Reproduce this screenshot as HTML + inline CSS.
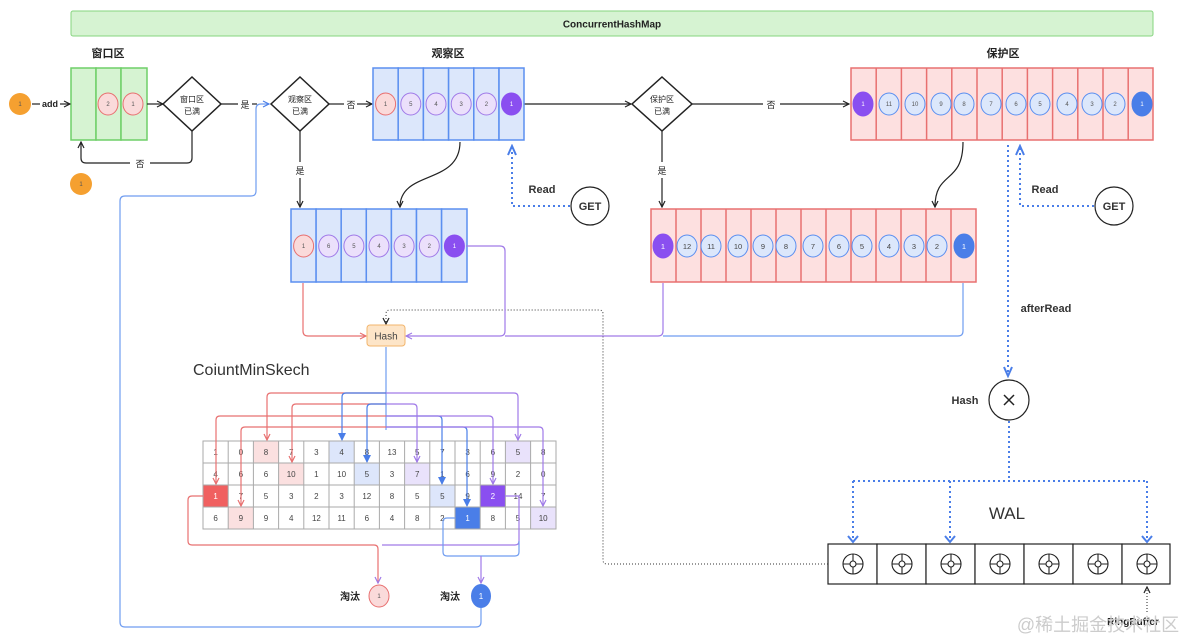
<!DOCTYPE html>
<html><head><meta charset="utf-8"><style>
html,body{margin:0;padding:0;background:#fff}
svg{display:block}
text{font-family:"Liberation Sans","Noto Sans CJK SC",sans-serif}
</style></head><body>
<svg width="1184" height="641" viewBox="0 0 1184 641" xmlns="http://www.w3.org/2000/svg">
<defs>
<marker id="ak" markerWidth="8" markerHeight="8" refX="7" refY="4" orient="auto" markerUnits="userSpaceOnUse"><path d="M1,1 L7,4 L1,7" fill="none" stroke="#222" stroke-width="1.2"/></marker>
<marker id="ab" markerWidth="12" markerHeight="10" refX="10" refY="5" orient="auto" markerUnits="userSpaceOnUse"><path d="M1,1 L10,5 L1,9" fill="none" stroke="#4a7ee8" stroke-width="2"/></marker>
<marker id="ab2" markerWidth="8" markerHeight="8" refX="7" refY="4" orient="auto" markerUnits="userSpaceOnUse"><path d="M1,1 L7,4 L1,7" fill="none" stroke="#4a7ee8" stroke-width="1.2"/></marker>
<marker id="abf" markerWidth="8" markerHeight="8" refX="7" refY="4" orient="auto" markerUnits="userSpaceOnUse"><path d="M0,0 L8,4 L0,8z" fill="#4a7ee8"/></marker>
<marker id="ar" markerWidth="8" markerHeight="8" refX="7" refY="4" orient="auto" markerUnits="userSpaceOnUse"><path d="M1,1 L7,4 L1,7" fill="none" stroke="#e87070" stroke-width="1.2"/></marker>
<marker id="ap" markerWidth="8" markerHeight="8" refX="7" refY="4" orient="auto" markerUnits="userSpaceOnUse"><path d="M1,1 L7,4 L1,7" fill="none" stroke="#a07ae8" stroke-width="1.2"/></marker>
</defs>

<!-- top bar -->
<rect x="71" y="11" width="1082" height="25" rx="2" fill="#d6f3d2" stroke="#86d47f"/>
<text x="612" y="27.5" font-size="10" font-weight="bold" text-anchor="middle" fill="#222">ConcurrentHashMap</text>

<!-- headings -->
<g font-size="11" font-weight="bold" fill="#222" text-anchor="middle">
<text x="108" y="57">窗口区</text>
<text x="448" y="57">观察区</text>
<text x="1003" y="57">保护区</text>
</g>

<!-- window box -->
<g stroke="#6fcf68" stroke-width="1.5" fill="#d6f3d2">
<rect x="71" y="68" width="25" height="72"/><rect x="96" y="68" width="25" height="72"/><rect x="121" y="68" width="26" height="72"/>
</g>
<g font-size="6" text-anchor="middle" fill="#555">
<ellipse cx="108" cy="104" rx="10" ry="11" fill="#fadada" stroke="#e87070"/><text x="108" y="106">2</text>
<ellipse cx="133" cy="104" rx="10" ry="11" fill="#fadada" stroke="#e87070"/><text x="133" y="106">1</text>
<circle cx="20" cy="104" r="11" fill="#f5a030"/><text x="20" y="106">1</text>
<circle cx="81" cy="184" r="11" fill="#f5a030"/><text x="81" y="186">1</text>
</g>
<g stroke="#222" stroke-width="1.2" fill="none">
<path d="M32,104 H40"/><path d="M60,104 H70" marker-end="url(#ak)"/>
<path d="M147,104 H163" marker-end="url(#ak)"/>
<path d="M221,104 H238"/><path d="M252,104 H257"/>
<path d="M192,131 V158 q0,5 -5,5 H150 M130,163 H86 q-5,0 -5,-5 V142" marker-end="url(#ak)"/>
<path d="M329,104 H344"/><path d="M357,104 H372" marker-end="url(#ak)"/>
<path d="M300,131 V162 M300,178 V207" marker-end="url(#ak)"/>
<path d="M524,104 H631" marker-end="url(#ak)"/>
<path d="M692,104 H763 M780,104 H849" marker-end="url(#ak)"/>
<path d="M662,131 V162 M662,178 V207" marker-end="url(#ak)"/>
<path d="M460,142 C460,185 400,170 400,207" marker-end="url(#ak)"/>
<path d="M963,142 C963,185 935,170 935,207" marker-end="url(#ak)"/>
</g>
<g font-size="9" fill="#222" text-anchor="middle">
<text x="50" y="107" font-weight="bold">add</text>
<text x="245" y="108">是</text>
<text x="140" y="167">否</text>
<text x="351" y="108">否</text>
<text x="300" y="174">是</text>
<text x="771" y="108">否</text>
<text x="662" y="174">是</text>
</g>
<!-- diamonds -->
<g fill="#fff" stroke="#222" stroke-width="1.5">
<path d="M192,77 L221,104 L192,131 L163,104 Z"/>
<path d="M300,77 L329,104 L300,131 L271,104 Z"/>
<path d="M662,77 L692,104 L662,131 L632,104 Z"/>
</g>
<g font-size="8" fill="#222" text-anchor="middle">
<text x="192" y="102">窗口区</text><text x="192" y="114">已满</text>
<text x="300" y="102">观察区</text><text x="300" y="114">已满</text>
<text x="662" y="102">保护区</text><text x="662" y="114">已满</text>
</g>

<!-- blue loop -->
<path d="M481,608 V622 q0,5 -5,5 H125 q-5,0 -5,-5 V201 q0,-5 5,-5 H251 q5,0 5,-5 V109 q0,-5 5,-5 H269" fill="none" stroke="#6f9cf0" stroke-width="1.2" marker-end="url(#ab2)"/>

<!-- observation box -->
<g stroke="#5b8ff0" stroke-width="1.5" fill="#dce7fb">
<rect x="373" y="68" width="25.2" height="72"/><rect x="398.2" y="68" width="25.2" height="72"/><rect x="423.4" y="68" width="25.2" height="72"/><rect x="448.6" y="68" width="25.2" height="72"/><rect x="473.8" y="68" width="25.2" height="72"/><rect x="499" y="68" width="25" height="72"/>
</g>
<g font-size="6" text-anchor="middle" fill="#555">
<ellipse cx="385.6" cy="104" rx="10" ry="11" fill="#fadada" stroke="#e87070"/><text x="385.6" y="106">1</text>
<ellipse cx="410.8" cy="104" rx="10" ry="11" fill="#ebe0fb" stroke="#a07ae8"/><text x="410.8" y="106">5</text>
<ellipse cx="436" cy="104" rx="10" ry="11" fill="#ebe0fb" stroke="#a07ae8"/><text x="436" y="106">4</text>
<ellipse cx="461.2" cy="104" rx="10" ry="11" fill="#ebe0fb" stroke="#a07ae8"/><text x="461.2" y="106">3</text>
<ellipse cx="486.4" cy="104" rx="10" ry="11" fill="#ebe0fb" stroke="#a07ae8"/><text x="486.4" y="106">2</text>
<ellipse cx="511.5" cy="104" rx="10" ry="11" fill="#8a4ff0" stroke="#8a4ff0"/><text x="511.5" y="106" fill="#fff">1</text>
</g>

<!-- second observation box -->
<g stroke="#5b8ff0" stroke-width="1.5" fill="#dce7fb">
<rect x="291" y="209" width="25.1" height="73"/><rect x="316.1" y="209" width="25.1" height="73"/><rect x="341.2" y="209" width="25.1" height="73"/><rect x="366.3" y="209" width="25.1" height="73"/><rect x="391.4" y="209" width="25.1" height="73"/><rect x="416.5" y="209" width="25.1" height="73"/><rect x="441.6" y="209" width="25.4" height="73"/>
</g>
<g font-size="6" text-anchor="middle" fill="#555">
<ellipse cx="303.6" cy="246" rx="10" ry="11" fill="#fadada" stroke="#e87070"/><text x="303.6" y="248">1</text>
<ellipse cx="328.7" cy="246" rx="10" ry="11" fill="#ebe0fb" stroke="#a07ae8"/><text x="328.7" y="248">6</text>
<ellipse cx="353.9" cy="246" rx="10" ry="11" fill="#ebe0fb" stroke="#a07ae8"/><text x="353.9" y="248">5</text>
<ellipse cx="379" cy="246" rx="10" ry="11" fill="#ebe0fb" stroke="#a07ae8"/><text x="379" y="248">4</text>
<ellipse cx="404.1" cy="246" rx="10" ry="11" fill="#ebe0fb" stroke="#a07ae8"/><text x="404.1" y="248">3</text>
<ellipse cx="429.3" cy="246" rx="10" ry="11" fill="#ebe0fb" stroke="#a07ae8"/><text x="429.3" y="248">2</text>
<ellipse cx="454.4" cy="246" rx="10" ry="11" fill="#8a4ff0" stroke="#8a4ff0"/><text x="454.4" y="248" fill="#fff">1</text>
</g>

<!-- protected top -->
<g stroke="#e87070" stroke-width="1.5" fill="#fde0e0">
<rect x="851" y="68" width="302" height="72"/>
<path d="M876.2,68V140 M901.4,68V140 M926.6,68V140 M951.8,68V140 M977,68V140 M1002.2,68V140 M1027.4,68V140 M1052.6,68V140 M1077.8,68V140 M1103,68V140 M1128.2,68V140" fill="none"/>
</g>
<g font-size="6" text-anchor="middle" fill="#555">
<ellipse cx="863" cy="104" rx="10" ry="12" fill="#8a4ff0" stroke="#8a4ff0"/><text x="863" y="106" fill="#fff">1</text>
<g fill="#dce7fb" stroke="#5b8ff0">
<ellipse cx="889" cy="104" rx="10" ry="11"/><ellipse cx="915" cy="104" rx="10" ry="11"/><ellipse cx="941" cy="104" rx="10" ry="11"/><ellipse cx="964" cy="104" rx="10" ry="11"/><ellipse cx="991" cy="104" rx="10" ry="11"/><ellipse cx="1016" cy="104" rx="10" ry="11"/><ellipse cx="1040" cy="104" rx="10" ry="11"/><ellipse cx="1067" cy="104" rx="10" ry="11"/><ellipse cx="1092" cy="104" rx="10" ry="11"/><ellipse cx="1115" cy="104" rx="10" ry="11"/>
</g>
<text x="889" y="106">11</text><text x="915" y="106">10</text><text x="941" y="106">9</text><text x="964" y="106">8</text><text x="991" y="106">7</text><text x="1016" y="106">6</text><text x="1040" y="106">5</text><text x="1067" y="106">4</text><text x="1092" y="106">3</text><text x="1115" y="106">2</text>
<ellipse cx="1142" cy="104" rx="10" ry="12" fill="#4a7ee8" stroke="#4a7ee8"/><text x="1142" y="106" fill="#fff">1</text>
</g>

<!-- protected bottom -->
<g stroke="#e87070" stroke-width="1.5" fill="#fde0e0">
<rect x="651" y="209" width="325" height="73"/>
<path d="M676,209V282 M701,209V282 M726,209V282 M751,209V282 M776,209V282 M801,209V282 M826,209V282 M851,209V282 M876,209V282 M901,209V282 M926,209V282 M951,209V282" fill="none"/>
</g>
<g font-size="7.5" text-anchor="middle" fill="#444">
<ellipse cx="663" cy="246" rx="10" ry="12" fill="#8a4ff0" stroke="#8a4ff0"/><text x="663" y="249" fill="#fff">1</text>
<g fill="#dce7fb" stroke="#5b8ff0">
<ellipse cx="687" cy="246" rx="10" ry="11"/><ellipse cx="711" cy="246" rx="10" ry="11"/><ellipse cx="738" cy="246" rx="10" ry="11"/><ellipse cx="763" cy="246" rx="10" ry="11"/><ellipse cx="786" cy="246" rx="10" ry="11"/><ellipse cx="813" cy="246" rx="10" ry="11"/><ellipse cx="839" cy="246" rx="10" ry="11"/><ellipse cx="862" cy="246" rx="10" ry="11"/><ellipse cx="889" cy="246" rx="10" ry="11"/><ellipse cx="914" cy="246" rx="10" ry="11"/><ellipse cx="937" cy="246" rx="10" ry="11"/>
</g>
<text x="687" y="249">12</text><text x="711" y="249">11</text><text x="738" y="249">10</text><text x="763" y="249">9</text><text x="786" y="249">8</text><text x="813" y="249">7</text><text x="839" y="249">6</text><text x="862" y="249">5</text><text x="889" y="249">4</text><text x="914" y="249">3</text><text x="937" y="249">2</text>
<ellipse cx="964" cy="246" rx="10" ry="12" fill="#4a7ee8" stroke="#4a7ee8"/><text x="964" y="249" fill="#fff">1</text>
</g>

<!-- Read/GET -->
<g stroke="#4a7ee8" stroke-width="2" stroke-dasharray="2,3" fill="none">
<path d="M570,206 H512 V146" marker-end="url(#ab)"/>
<path d="M1094,206 H1020 V146" marker-end="url(#ab)"/>
<path d="M1008,145 V376" marker-end="url(#ab)"/>
<path d="M1009,421 V481 M853,481 H1147 M853,481 V541 M950,481 V541 M1147,481 V541"/>
</g>
<g stroke="#4a7ee8" stroke-width="2" fill="none"><path d="M848,536 L853,542 L858,536 M945,536 L950,542 L955,536 M1142,536 L1147,542 L1152,536"/></g>
<circle cx="590" cy="206" r="19" fill="#fff" stroke="#222" stroke-width="1.2"/>
<circle cx="1114" cy="206" r="19" fill="#fff" stroke="#222" stroke-width="1.2"/>
<g font-size="11" font-weight="bold" fill="#333" text-anchor="middle">
<text x="590" y="210">GET</text><text x="1114" y="210">GET</text>
<text x="542" y="193">Read</text><text x="1045" y="193">Read</text>
<text x="1046" y="312">afterRead</text>
<text x="965" y="404">Hash</text>
</g>
<circle cx="1009" cy="400" r="20" fill="#fff" stroke="#222" stroke-width="1.2"/>
<path d="M1004,395 L1014,405 M1014,395 L1004,405" stroke="#222" stroke-width="1.5"/>
<text x="1007" y="519" font-size="17" fill="#333" text-anchor="middle">WAL</text>

<!-- WAL cells -->
<g stroke="#222" stroke-width="1.2" fill="#fff">
<rect x="828" y="544" width="49" height="40"/><rect x="877" y="544" width="49" height="40"/><rect x="926" y="544" width="49" height="40"/><rect x="975" y="544" width="49" height="40"/><rect x="1024" y="544" width="49" height="40"/><rect x="1073" y="544" width="49" height="40"/><rect x="1122" y="544" width="48" height="40"/>
</g>
<g stroke="#222" stroke-width="1.1" fill="none">
<g id="tg"><circle cx="853" cy="564" r="10"/><circle cx="853" cy="564" r="3"/><path d="M843,564h7 M856,564h7 M853,554v7 M853,567v7"/></g>
<use href="#tg" x="49"/><use href="#tg" x="98"/><use href="#tg" x="147"/><use href="#tg" x="196"/><use href="#tg" x="245"/><use href="#tg" x="294"/>
</g>
<path d="M1147,612 V587" stroke="#222" stroke-width="1" stroke-dasharray="1,2" marker-end="url(#ak)"/>
<text x="1133" y="625" font-size="10" font-weight="bold" fill="#222" text-anchor="middle">RingBuffer</text>
<text x="1098" y="631" font-size="18" fill="#ccc" text-anchor="middle">@稀土掘金技术社区</text>

<!-- dotted black to hash -->
<path d="M828,564 H607 q-4,0 -4,-4 V314 q0,-4 -4,-4 H390 q-4,0 -4,4 V324" fill="none" stroke="#333" stroke-width="1" stroke-dasharray="1,2" marker-end="url(#ak)"/>

<!-- lines into Hash -->
<path d="M303,283 V331 q0,5 5,5 H366" fill="none" stroke="#e87070" stroke-width="1.2" marker-end="url(#ar)"/>
<path d="M466,246 H500 q5,0 5,5 V331 q0,5 -5,5 H406" fill="none" stroke="#a07ae8" stroke-width="1.2" marker-end="url(#ap)"/>
<path d="M663,283 V331 q0,5 -5,5 H505" fill="none" stroke="#a07ae8" stroke-width="1.2"/>
<path d="M963,283 V331 q0,5 -5,5 H663" fill="none" stroke="#6f9cf0" stroke-width="1.2"/>
<rect x="367" y="325" width="38" height="21" rx="3" fill="#fde5c8" stroke="#f2b56c"/>
<text x="386" y="339.5" font-size="10" fill="#444" text-anchor="middle">Hash</text>
<text x="193" y="375" font-size="16" fill="#333">CoiuntMinSkech</text>

<!-- CMS grid -->
<g stroke="#999" stroke-width="1" fill="#fff">
<rect x="203" y="441" width="353" height="88"/>
</g>
<g stroke="none">
<rect x="253.4" y="441" width="25.2" height="22" fill="#fbe0e0"/>
<rect x="329" y="441" width="25.2" height="22" fill="#dde6fb"/>
<rect x="505.4" y="441" width="25.2" height="22" fill="#e9e2fb"/>
<rect x="278.6" y="463" width="25.2" height="22" fill="#fbe0e0"/>
<rect x="354.2" y="463" width="25.2" height="22" fill="#dde6fb"/>
<rect x="404.6" y="463" width="25.2" height="22" fill="#e9e2fb"/>
<rect x="203" y="485" width="25.2" height="22" fill="#f06060"/>
<rect x="429.8" y="485" width="25.2" height="22" fill="#dde6fb"/>
<rect x="480.2" y="485" width="25.2" height="22" fill="#8a4ff0"/>
<rect x="228.2" y="507" width="25.2" height="22" fill="#fbe0e0"/>
<rect x="455" y="507" width="25.2" height="22" fill="#4a7ee8"/>
<rect x="530.6" y="507" width="25.4" height="22" fill="#e9e2fb"/>
</g>
<g stroke="#aaa" stroke-width="1" fill="none">
<rect x="203" y="441" width="353" height="88"/>
<path d="M203,463H556 M203,485H556 M203,507H556 M228.2,441V529 M253.4,441V529 M278.6,441V529 M303.8,441V529 M329,441V529 M354.2,441V529 M379.4,441V529 M404.6,441V529 M429.8,441V529 M455,441V529 M480.2,441V529 M505.4,441V529 M530.6,441V529"/>
</g>
<g font-size="8" fill="#444" text-anchor="middle">
<text x="215.6" y="455">1</text><text x="240.8" y="455">0</text><text x="266" y="455">8</text><text x="291.2" y="455">7</text><text x="316.4" y="455">3</text><text x="341.6" y="455">4</text><text x="366.8" y="455">8</text><text x="392" y="455">13</text><text x="417.2" y="455">5</text><text x="442.4" y="455">7</text><text x="467.6" y="455">3</text><text x="492.8" y="455">6</text><text x="518" y="455">5</text><text x="543.2" y="455">8</text>
<text x="215.6" y="477">4</text><text x="240.8" y="477">6</text><text x="266" y="477">6</text><text x="291.2" y="477">10</text><text x="316.4" y="477">1</text><text x="341.6" y="477">10</text><text x="366.8" y="477">5</text><text x="392" y="477">3</text><text x="417.2" y="477">7</text><text x="442.4" y="477">1</text><text x="467.6" y="477">6</text><text x="492.8" y="477">9</text><text x="518" y="477">2</text><text x="543.2" y="477">0</text>
<text x="215.6" y="499" fill="#fff">1</text><text x="240.8" y="499">7</text><text x="266" y="499">5</text><text x="291.2" y="499">3</text><text x="316.4" y="499">2</text><text x="341.6" y="499">3</text><text x="366.8" y="499">12</text><text x="392" y="499">8</text><text x="417.2" y="499">5</text><text x="442.4" y="499">5</text><text x="467.6" y="499">9</text><text x="492.8" y="499" fill="#fff">2</text><text x="518" y="499">14</text><text x="543.2" y="499">7</text>
<text x="215.6" y="521">6</text><text x="240.8" y="521">9</text><text x="266" y="521">9</text><text x="291.2" y="521">4</text><text x="316.4" y="521">12</text><text x="341.6" y="521">11</text><text x="366.8" y="521">6</text><text x="392" y="521">4</text><text x="417.2" y="521">8</text><text x="442.4" y="521">2</text><text x="467.6" y="521" fill="#fff">1</text><text x="492.8" y="521">8</text><text x="518" y="521">5</text><text x="543.2" y="521">10</text>
</g>

<!-- hash distribution lines -->
<path d="M386,347 V430" stroke="#6f9cf0" stroke-width="1.2" fill="none"/>
<g fill="none" stroke-width="1.2">
<g stroke="#e87070">
<path d="M386,393 H271 q-4,0 -4,4 V440" marker-end="url(#ar)"/>
<path d="M386,404 H296 q-4,0 -4,4 V462" marker-end="url(#ar)"/>
<path d="M386,416 H220 q-4,0 -4,4 V484" marker-end="url(#ar)"/>
<path d="M386,427 H245 q-4,0 -4,4 V506" marker-end="url(#ar)"/>
</g>
<g stroke="#4a7ee8">
<path d="M386,393 H346 q-4,0 -4,4 V440" marker-end="url(#abf)"/>
<path d="M386,404 H371 q-4,0 -4,4 V462" marker-end="url(#abf)"/>
<path d="M386,416 H438 q4,0 4,4 V484" marker-end="url(#abf)"/>
<path d="M386,427 H463 q4,0 4,4 V506" marker-end="url(#abf)"/>
</g>
<g stroke="#a07ae8">
<path d="M386,393 H514 q4,0 4,4 V440" marker-end="url(#ap)"/>
<path d="M386,404 H413 q4,0 4,4 V462" marker-end="url(#ap)"/>
<path d="M386,416 H489 q4,0 4,4 V484" marker-end="url(#ap)"/>
<path d="M386,427 H539 q4,0 4,4 V506" marker-end="url(#ap)"/>
</g>
<!-- evictions -->
<path d="M203,496 H192 q-4,0 -4,4 V541 q0,4 4,4 H374 q4,0 4,4 V583" stroke="#e87070" marker-end="url(#ap)"/>
<path d="M505,496 H519 V541 q0,4 -4,4 H382" stroke="#a07ae8"/>
<path d="M455,518 H447 q-4,0 -4,4 V552 q0,4 4,4 H515 q4,0 4,-4 V541" stroke="#6f9cf0"/>
<path d="M481,556 V583" stroke="#a07ae8" marker-end="url(#ap)"/>
</g>
<ellipse cx="379" cy="596" rx="10" ry="11" fill="#fadada" stroke="#e87070"/>
<text x="379" y="598" font-size="6" fill="#555" text-anchor="middle">1</text>
<ellipse cx="481" cy="596" rx="10" ry="12" fill="#4a7ee8"/>
<text x="481" y="599" font-size="8" fill="#fff" text-anchor="middle">1</text>
<g font-size="10" font-weight="bold" fill="#222" text-anchor="middle">
<text x="350" y="600">淘汰</text><text x="450" y="600">淘汰</text>
</g>
</svg>
</body></html>
